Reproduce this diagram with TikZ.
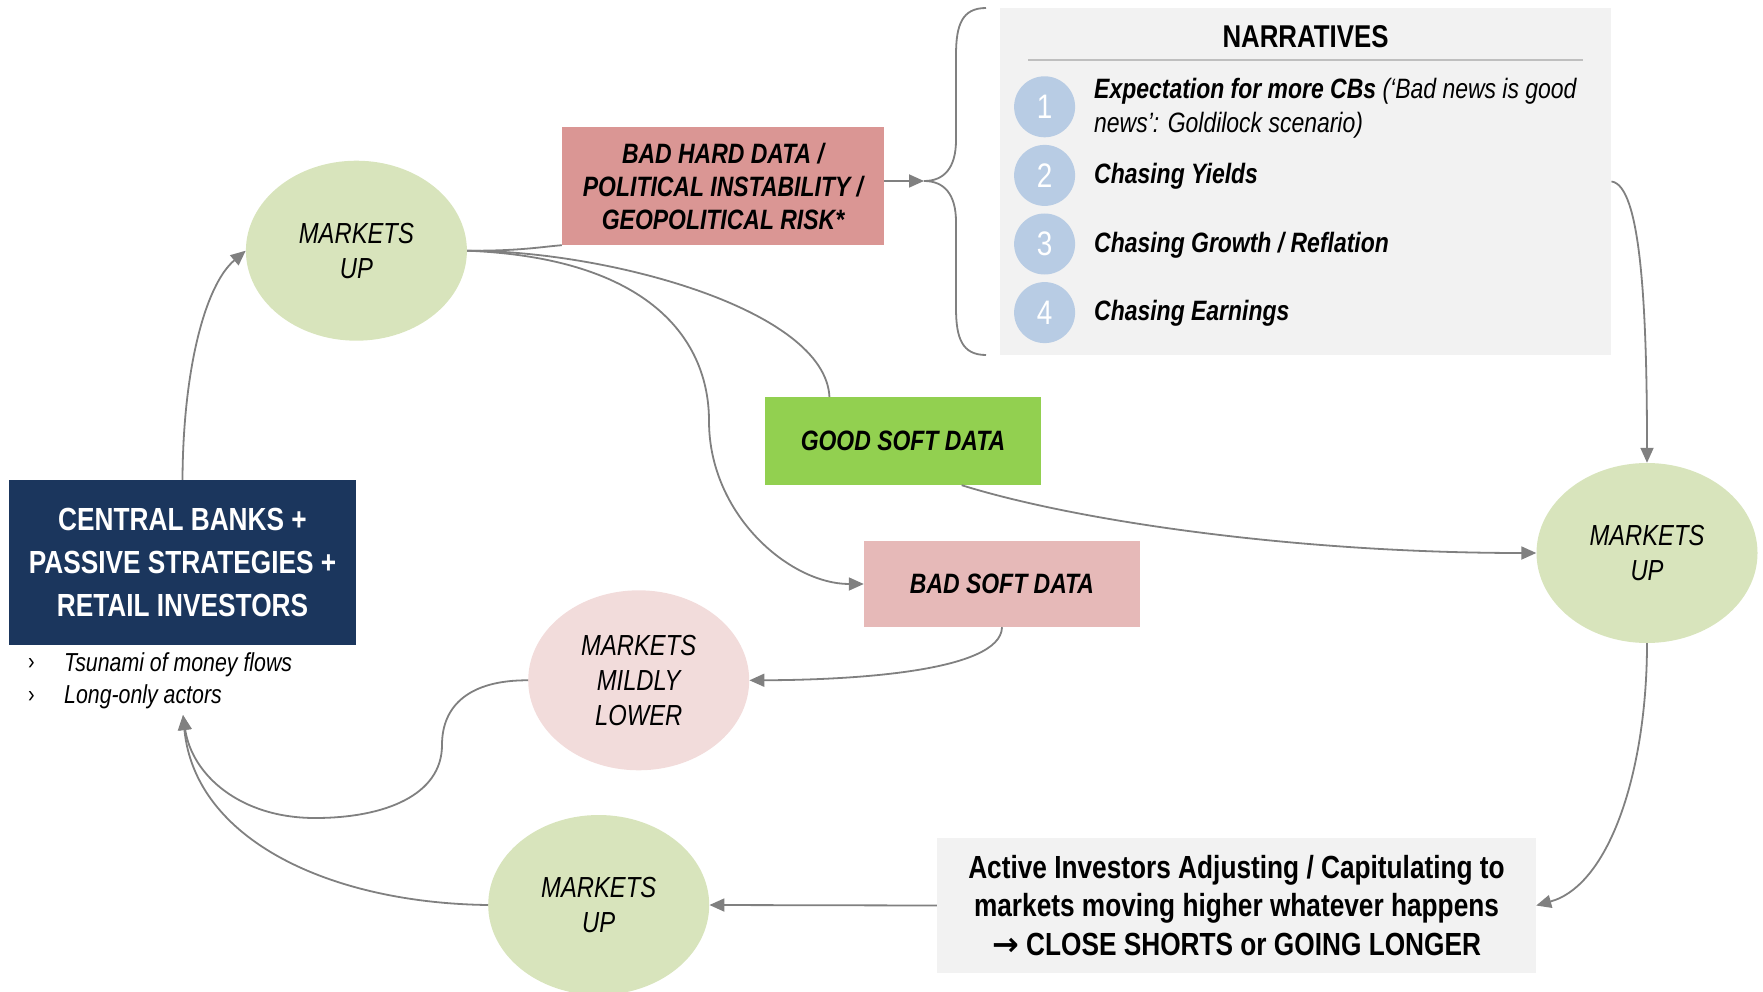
\documentclass[tikz,border=0pt]{standalone}
\usepackage{fontspec}
\setmainfont{Liberation Sans}[FakeStretch=0.82]
\newfontfamily\arrowfont{DejaVu Sans}
\usetikzlibrary{shapes.geometric,arrows.meta}
\definecolor{mugreen}{HTML}{D8E4BC}
\definecolor{mildpink}{HTML}{F2DCDB}
\definecolor{bhdred}{HTML}{DA9694}
\definecolor{bsdpink}{HTML}{E6B9B8}
\definecolor{gsdgreen}{HTML}{92D050}
\definecolor{cbnavy}{HTML}{1B365D}
\definecolor{narrbg}{HTML}{F2F2F2}
\definecolor{numblue}{HTML}{B8CCE4}
\definecolor{arrgray}{HTML}{808080}
\definecolor{rulegray}{HTML}{BFBFBF}
\tikzset{
  mkt/.style={ellipse, minimum width=221pt, minimum height=180pt, inner sep=0pt, align=center,
    font=\fontsize{29}{35}\selectfont\itshape},
  databox/.style={rectangle, inner sep=0pt, align=center,
    font=\fontsize{28}{33}\selectfont\bfseries\itshape},
  numc/.style={circle, fill=numblue, minimum size=61pt, inner sep=0pt, text=white,
    font=\fontsize{34}{34}\selectfont},
  item/.style={anchor=west, align=left, inner sep=0pt, font=\fontsize{28}{34}\selectfont\itshape},
  bul/.style={anchor=west, inner sep=0pt, font=\fontsize{26}{30}\selectfont\itshape},
  conn/.style={draw=arrgray, line width=1.8pt},
  arr/.style={conn, -{Triangle[length=15pt,width=13pt]}},
}
\begin{document}
\begin{tikzpicture}[x=1pt,y=-1pt]
\useasboundingbox (0,0) rectangle (1763,992);

% Narratives panel
\node[rectangle, fill=narrbg, minimum width=611.5pt, minimum height=347pt, inner sep=0pt] (narr) at (1305.5,181.5) {};
\node[inner sep=0pt, font=\fontsize{31.5}{31.5}\selectfont\bfseries] (ntitle) at (1305.5,37) {NARRATIVES};
\draw[draw=rulegray, line width=2pt] (1028,60) -- (1583,60);
\node[numc] (n1) at (1044.6,106.8) {1};
\node[numc] (n2) at (1044.6,175.4) {2};
\node[numc] (n3) at (1044.6,244) {3};
\node[numc] (n4) at (1044.6,312.6) {4};
\node[item] (t1) at (1094,107.8) {\textbf{Expectation for more CBs} (‘Bad news is good\\news’: Goldilock scenario)};
\node[item, font=\fontsize{28}{34}\selectfont\bfseries\itshape] (t2) at (1094,176.4) {Chasing Yields};
\node[item, font=\fontsize{28}{34}\selectfont\bfseries\itshape] (t3) at (1094,245) {Chasing Growth / Reflation};
\node[item, font=\fontsize{28}{34}\selectfont\bfseries\itshape] (t4) at (1094,313.6) {Chasing Earnings};

% brace
\coordinate (btip) at (924,181);
\draw[conn] (986,8) .. controls (962,8) and (956,25) .. (956,55) -- (956,140)
  .. controls (956,168) and (944,181) .. (btip)
  .. controls (944,181) and (956,194) .. (956,222) -- (956,308)
  .. controls (956,338) and (962,355) .. (986,355);

% main nodes
\node[mkt, fill=mugreen] (mu1) at (356.4,250.7) {MARKETS\\UP};
\node[mkt, fill=mugreen] (mur) at (1647,553) {MARKETS\\UP};
\node[mkt, fill=mildpink] (mild) at (638.7,680.3) {MARKETS\\MILDLY\\LOWER};
\node[mkt, fill=mugreen] (mub) at (598.7,905) {MARKETS\\UP};

\node[databox, fill=bhdred, minimum width=322pt, minimum height=118pt] (bhd) at (723,186) {BAD HARD DATA /\\POLITICAL INSTABILITY /\\GEOPOLITICAL RISK*};
\node[databox, fill=gsdgreen, minimum width=276pt, minimum height=88pt] (gsd) at (903,441) {GOOD SOFT DATA};
\node[databox, fill=bsdpink, minimum width=276pt, minimum height=86pt] (bsd) at (1002,584) {BAD SOFT DATA};

\node[rectangle, fill=cbnavy, text=white, minimum width=347pt, minimum height=165pt, inner sep=0pt, align=center,
  font=\fontsize{32}{42.7}\selectfont\bfseries] (cb) at (182.5,562.5) {CENTRAL BANKS +\\PASSIVE STRATEGIES +\\RETAIL INVESTORS};

\node[bul, font=\fontsize{24}{30}\selectfont] (b1m) at (28,664.4) {›};
\node[bul] (b1) at (64,664.4) {Tsunami of money flows};
\node[bul, font=\fontsize{24}{30}\selectfont] (b2m) at (28,697) {›};
\node[bul] (b2) at (64,697) {Long-only actors};
\coordinate (tip) at (183,715);

\node[rectangle, fill=narrbg, minimum width=599pt, minimum height=135pt, inner sep=0pt, align=center,
  font=\fontsize{32}{38.5}\selectfont\bfseries] (act) at (1236.5,905.5) {Active Investors Adjusting / Capitulating to\\markets moving higher whatever happens\\{\arrowfont\bfseries →} CLOSE SHORTS or GOING LONGER};

% connectors
\draw[arr] (cb.north) .. controls (183,370) and (205,285) .. (mu1.west);
\draw[conn] (mu1.east) .. controls (520,251) and (540,247) .. (bhd.south west);
\draw[conn] (mu1.east) .. controls (610,251) and (825,310) .. (gsd.149);
\draw[arr] (mu1.east) .. controls (650,258) and (709,340) .. (709,421)
  .. controls (709,515) and (790,584) .. (bsd.west);
\draw[arr] (bhd.east |- btip) -- (btip);
\draw[arr] (narr.east) .. controls (1640,185) and (1647,300) .. (mur.north);
\draw[arr] (gsd.-37) .. controls (1080,522) and (1300,553) .. (mur.west);
\draw[arr] (bsd.south) .. controls (1001,672) and (850,680) .. (mild.east);
\draw[arr] (mur.south) .. controls (1647,770) and (1610,885) .. (act.east);
\draw[arr] (act.west) -- (mub.east);
\draw[arr] (mub.west) .. controls (330,903) and (195,840) .. (tip);
\draw[arr] (mild.west) .. controls (470,680) and (442,705) .. (442,745)
  .. controls (442,795) and (385,818) .. (315,818)
  .. controls (240,818) and (192,775) .. (tip);
\end{tikzpicture}
\end{document}
